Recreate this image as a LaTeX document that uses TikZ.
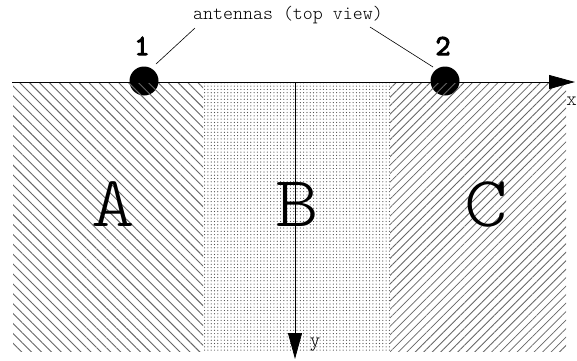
\documentclass[tikz,border=0pt]{standalone}
\usepackage{fontspec}
\newfontfamily\lightmono{Latin Modern Mono Light}
\newfontfamily\heavymono[FakeBold=4]{Latin Modern Mono}
\usetikzlibrary{patterns,patterns.meta,arrows.meta}
\tikzset{
  hatchA/.style={pattern={Lines[angle=-45,distance=7pt,line width=0.9pt]},pattern color=black!60},
  hatchC/.style={pattern={Lines[angle=45,distance=6pt,line width=0.8pt]},pattern color=black!60},
  dotsB/.style={pattern={Dots[distance=3.3pt,radius=0.6pt]},pattern color=black!70},
  antenna/.style={circle,fill=black,minimum size=29pt,inner sep=0pt},
  bigletter/.style={font=\fontsize{72}{72}\selectfont\lightmono,inner sep=0pt,xscale=1.15},
  numlabel/.style={font=\fontsize{29}{29}\selectfont\heavymono,inner sep=0pt},
  axislabel/.style={font=\fontsize{20}{20}\selectfont\lightmono,inner sep=0pt},
  axis/.style={line width=0.8pt,-{Triangle[length=26pt,width=14pt]}},
  leader/.style={line width=0.6pt},
}
\begin{document}
\begin{tikzpicture}[x=1pt,y=-1pt]
\useasboundingbox[fill=white] (0,0) rectangle (577,360);
% antennas (drawn first so that hatch shows over them)
\node[antenna] (a1) at (144,81) {};
\node[antenna] (a2) at (445,81) {};
% regions
\fill[hatchA] (13,82) rectangle (203,351);
\fill[dotsB] (203,82) rectangle (390,351);
\fill[hatchC] (390,82) rectangle (566,351);
% letters
\node[bigletter] (A) at (113,204) {A};
\node[bigletter] (B) at (297,204) {B};
\node[bigletter] (C) at (486,204) {C};
% axes
\coordinate (xs) at (12,82);
\coordinate (xe) at (575,82);
\coordinate (ys) at (295,82);
\coordinate (ye) at (295,359);
\draw[axis] (xs) -- (xe);
\draw[axis] (ys) -- (ye);
\node[axislabel,anchor=east] (xl) at (577,101) {x};
\node[axislabel] (yl) at (315,345) {y};
% numbers
\node[numlabel] (n1) at (142,46) {1};
\node[numlabel] (n2) at (443,46) {2};
% label
\node[font=\fontsize{19}{19}\selectfont\lightmono,inner sep=0pt] (lbl) at (288,15) {antennas (top view)};
\coordinate (l1a) at (195,28);
\coordinate (l1b) at (156,64);
\coordinate (l2a) at (370,27);
\coordinate (l2b) at (433,67);
\draw[leader] (l1a) -- (l1b);
\draw[leader] (l2a) -- (l2b);
\end{tikzpicture}
\end{document}
